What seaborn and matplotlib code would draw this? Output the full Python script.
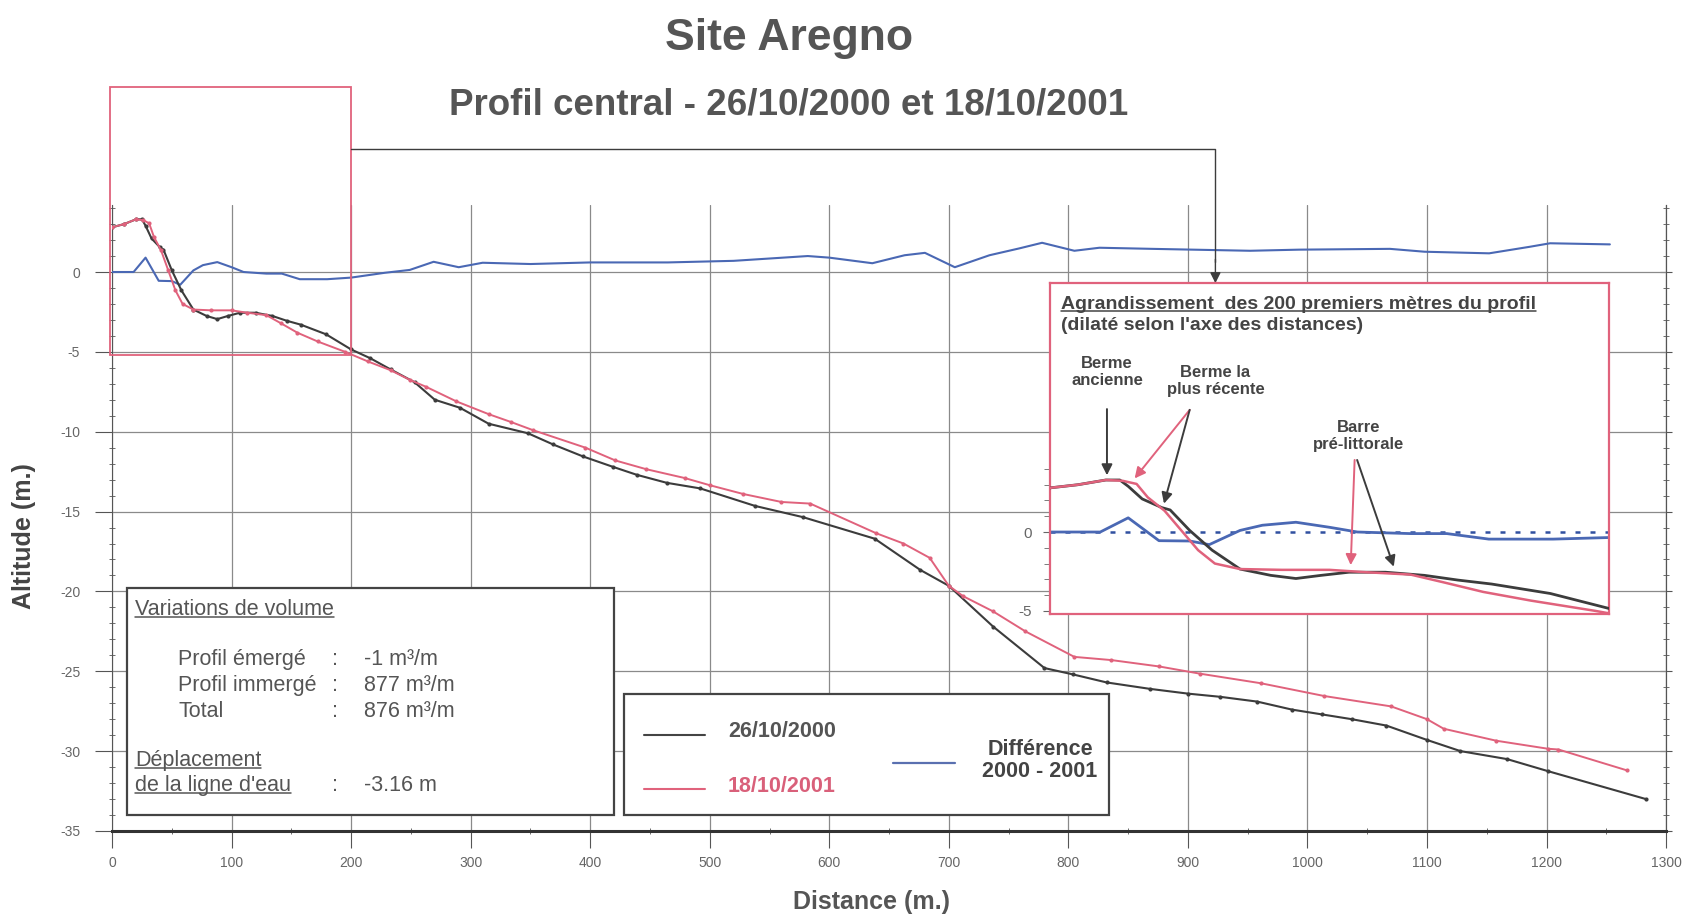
import matplotlib
matplotlib.use("Agg")
import pandas as pd
import matplotlib.pyplot as plt
import matplotlib.patches as mpatches
from matplotlib.lines import Line2D
import seaborn as sns

# Profil du 26/10/2000
dist_2000 = [0, 10, 20, 25, 28, 33, 40, 43, 50, 58, 68, 79, 88, 97, 107, 120, 134, 146, 158, 179,
             200, 216, 233, 253, 270, 291, 315, 348, 369, 394, 419, 439, 464, 492, 538, 578, 638, 676, 700, 737,
             780, 804, 832, 868, 900, 927, 958, 987, 1012, 1037, 1066, 1100, 1128, 1167, 1201, 1283]
alt_2000 = [2.8, 3.0, 3.3, 3.3, 2.9, 2.1, 1.55, 1.4, 0.1, -1.15, -2.35, -2.75, -2.95, -2.75, -2.55, -2.55, -2.75, -3.05, -3.3, -3.9,
            -4.85, -5.4, -6.1, -6.9, -8.0, -8.5, -9.5, -10.1, -10.8, -11.55, -12.2, -12.7, -13.2, -13.55, -14.65, -15.35, -16.7, -18.65, -19.65, -22.2,
            -24.8, -25.2, -25.7, -26.1, -26.4, -26.6, -26.9, -27.4, -27.7, -28.0, -28.4, -29.3, -30.0, -30.5, -31.25, -33.0]

# Profil du 18/10/2001
dist_2001 = [0, 10, 20, 26, 31, 35, 41, 47, 53, 59, 68, 83, 100, 113, 129, 141, 155, 172, 195, 214,
             233, 249, 263, 288, 315, 334, 352, 396, 421, 447, 479, 500, 528, 560, 584, 639, 662, 684, 700, 712,
             737, 764, 805, 836, 876, 910, 961, 1014, 1070, 1100, 1114, 1158, 1201, 1210, 1267]
alt_2001 = [2.8, 3.0, 3.3, 3.25, 3.05, 2.2, 1.35, 0.1, -1.15, -2.0, -2.35, -2.4, -2.4, -2.55, -2.7, -3.2, -3.8, -4.35, -5.0, -5.6,
            -6.15, -6.75, -7.2, -8.1, -8.9, -9.4, -9.9, -11.0, -11.8, -12.35, -12.9, -13.35, -13.9, -14.4, -14.5, -16.35, -17.0, -17.9, -19.65, -20.3,
            -21.25, -22.5, -24.1, -24.3, -24.7, -25.15, -25.75, -26.55, -27.2, -28.0, -28.6, -29.35, -29.85, -29.9, -31.2]

# Difference 2000 - 2001
dist_diff = [0, 18, 28, 39, 50, 57, 68, 76, 88, 100, 110, 129, 142, 157, 168, 180, 200, 228, 249, 269,
             290, 310, 350, 400, 465, 520, 582, 600, 636, 663, 680, 705, 734, 759, 778, 805, 826, 870, 952, 993,
             1069, 1098, 1152, 1186, 1203, 1253]
diff_2000_2001 = [0, 0, 0.9, -0.55, -0.57, -0.8, 0.1, 0.43, 0.62, 0.3, 0.0, -0.1, -0.1, -0.45, -0.45, -0.45, -0.35, -0.05, 0.13, 0.64,
                  0.3, 0.58, 0.5, 0.6, 0.6, 0.7, 1.0, 0.9, 0.55, 1.05, 1.2, 0.3, 1.05, 1.48, 1.83, 1.33, 1.52, 1.45, 1.33, 1.4,
                  1.45, 1.27, 1.17, 1.58, 1.8, 1.73]

x_ticks = list(range(0, 1301, 100))
y_ticks = list(range(-35, 1, 5))

sns.set_style("white")
plt.rcParams['font.family'] = ['Liberation Sans', 'DejaVu Sans']
plt.rcParams['axes.unicode_minus'] = False

GRIS = '#555555'
NOIR = '#3c3c3c'
ROUGE = '#e0627c'
BLEU = '#4a68b4'

p2000 = pd.DataFrame({'distance': dist_2000, 'altitude': alt_2000})
p2001 = pd.DataFrame({'distance': dist_2001, 'altitude': alt_2001})
pdiff = pd.DataFrame({'distance': dist_diff, 'altitude': diff_2000_2001})

fig = plt.figure(figsize=(16.88, 9.19), dpi=100)
ax = fig.add_axes([0.0664, 0.0958, 0.9206, 0.6812])

sns.lineplot(data=pdiff, x='distance', y='altitude', ax=ax, color=BLEU, lw=1.5,
             sort=False, estimator=None, zorder=3)
sns.lineplot(data=p2000, x='distance', y='altitude', ax=ax, color=NOIR, lw=1.5, marker='o',
             markersize=3, markeredgewidth=0, sort=False, estimator=None, zorder=3)
sns.lineplot(data=p2001, x='distance', y='altitude', ax=ax, color=ROUGE, lw=1.4, marker='o',
             markersize=3, markeredgewidth=0, sort=False, estimator=None, zorder=3)

ax.set_xlim(0, 1300)
ax.set_ylim(-35, 4.2)
ax.set_xticks(x_ticks)
ax.set_yticks(y_ticks)
ax.set_xticks(range(0, 1301, 50), minor=True)
ax.set_yticks(range(-35, 5), minor=True)
ax.grid(True, which='major', color='#8a8a8a', lw=0.9)
ax.tick_params(which='both', left=True, right=False, bottom=True,
               colors='#555555', labelcolor='#666666', labelsize=10)
ax.tick_params(which='major', direction='out', length=12)
ax.tick_params(which='minor', direction='inout', length=5)
ax.tick_params(axis='y', pad=11)
ax.tick_params(axis='x', pad=6)
ax.spines['top'].set_visible(False)
ax.spines['left'].set_color('#555555')
ax.spines['right'].set_color('#555555')
ax.spines['bottom'].set_color('#333333')
ax.spines['bottom'].set_linewidth(2.2)

# graduations de l'axe de droite (sans etiquettes)
droite = ax.secondary_yaxis('right')
droite.set_yticks(y_ticks)
droite.set_yticks(range(-35, 5), minor=True)
droite.tick_params(which='major', direction='inout', length=8, color='#555555', labelright=False)
droite.tick_params(which='minor', direction='inout', length=5, color='#555555')
droite.spines['right'].set_color('#555555')

ax.set_xlabel('Distance (m.)', fontsize=18, weight='bold', color=GRIS)
ax.set_ylabel('Altitude (m.)', fontsize=18, weight='bold', color='#444444')
ax.xaxis.set_label_coords(0.489, -0.113)
ax.xaxis.label.set_va('center')
ax.yaxis.set_label_coords(-0.0566, 0.471)
ax.yaxis.label.set_va('center')

# cadre des 200 premiers metres + renvoi vers l'agrandissement
ax.add_patch(mpatches.Rectangle((-1.5, -5.2), 201.5, 16.8, fill=False, ec=ROUGE, lw=1.3,
                                clip_on=False, zorder=4))
ax.plot([200, 923, 923], [7.7, 7.7, 0.6], color=NOIR, lw=1, clip_on=False, zorder=4)
ax.annotate('', xy=(923, -0.7), xytext=(923, 0.8), annotation_clip=False,
            arrowprops=dict(arrowstyle='-|>', color=NOIR, lw=1, mutation_scale=16,
                            shrinkA=0, shrinkB=0))

# titres
fig.text(0.4674, 0.958, 'Site Aregno', ha='center', va='center', fontsize=32,
         weight='bold', color=GRIS)
fig.text(0.4674, 0.8855, 'Profil central - 26/10/2000 et 18/10/2001', ha='center',
         va='center', fontsize=26.5, weight='bold', color=GRIS)

# agrandissement
axin = fig.add_axes([0.6220, 0.3319, 0.3312, 0.3602])
axin.set_facecolor('white')
axin.axhline(0, color='#3050a0', ls=(0, (2, 4)), lw=1.8, zorder=1)
sns.lineplot(data=pdiff, x='distance', y='altitude', ax=axin, color=BLEU, lw=2,
             sort=False, estimator=None, zorder=2)
sns.lineplot(data=p2000, x='distance', y='altitude', ax=axin, color=NOIR, lw=2,
             sort=False, estimator=None, zorder=3)
sns.lineplot(data=p2001, x='distance', y='altitude', ax=axin, color=ROUGE, lw=1.8,
             sort=False, estimator=None, zorder=3)
axin.set_xlim(0, 200)
axin.set_ylim(-5.2, 15.8)
axin.set_xlabel('')
axin.set_ylabel('')
axin.set_xticks([])
axin.set_yticks([-5, 0])
axin.set_yticklabels(['-5', '0'])
axin.set_yticks(range(-5, 5), minor=True)
axin.tick_params(axis='y', which='both', direction='out', left=True, colors='#666666',
                 labelsize=11, pad=8)
axin.tick_params(axis='y', which='major', length=5)
axin.tick_params(axis='y', which='minor', length=4)
for s in axin.spines.values():
    s.set_color(ROUGE)
    s.set_linewidth(1.6)

t_agr = axin.text(0.0197, 0.9335, 'Agrandissement  des 200 premiers mètres du profil',
                  transform=axin.transAxes, ha='left', va='center', fontsize=14,
                  weight='bold', color='#444444')
axin.text(0.0197, 0.870, "(dilaté selon l'axe des distances)", transform=axin.transAxes,
          ha='left', va='center', fontsize=14, weight='bold', color='#444444')

anno = dict(ha='center', va='center', fontsize=12, weight='bold', color='#444444',
            linespacing=1.15)
axin.text(20.4, 10.15, 'Berme\nancienne', **anno)
axin.text(59.2, 9.6, 'Berme la\nplus récente', **anno)
axin.text(110.5, 6.07, 'Barre\npré-littorale', **anno)


def fleche(a, depart, pointe, couleur):
    a.annotate('', xy=pointe, xytext=depart,
               arrowprops=dict(arrowstyle='-|>', color=couleur, lw=1.4, mutation_scale=16,
                               shrinkA=0, shrinkB=0))


fleche(axin, (20.4, 7.8), (20.4, 3.6), NOIR)
fleche(axin, (50, 7.75), (30.3, 3.4), ROUGE)
fleche(axin, (50, 7.75), (40.8, 1.8), NOIR)
fleche(axin, (109, 4.57), (107.6, -2.1), ROUGE)
fleche(axin, (109.9, 4.57), (123, -2.2), NOIR)

# encadre des volumes
fig.add_artist(mpatches.Rectangle((0.0752, 0.1132), 0.2885, 0.2468, transform=fig.transFigure,
                                  fc='white', ec='#444444', lw=1.6, zorder=5))
txt = dict(fontsize=15.5, color='#555555', va='center', zorder=6)
t_var = fig.text(0.0800, 0.3373, 'Variations de volume', **txt)
lignes = [('Profil émergé', '-1 m³/m', 0.2829),
          ('Profil immergé', '877 m³/m', 0.2546),
          ('Total', '876 m³/m', 0.2263)]
for lab, val, yy in lignes:
    fig.text(0.1055, yy, lab, **txt)
    fig.text(0.1967, yy, ':', **txt)
    fig.text(0.2156, yy, val, **txt)
t_dep1 = fig.text(0.0800, 0.1730, 'Déplacement', **txt)
t_dep2 = fig.text(0.0800, 0.1458, "de la ligne d'eau", **txt)
fig.text(0.1967, 0.1458, ':', **txt)
fig.text(0.2156, 0.1458, '-3.16 m', **txt)

# legende
fig.add_artist(mpatches.Rectangle((0.3697, 0.1132), 0.2873, 0.1317, transform=fig.transFigure,
                                  fc='white', ec='#444444', lw=1.6, zorder=5))
fig.add_artist(Line2D([0.3815, 0.4177], [0.2002, 0.2002], color='#444444', lw=1.5, zorder=6))
fig.add_artist(Line2D([0.3815, 0.4177], [0.1415, 0.1415], color=ROUGE, lw=1.5, zorder=6))
fig.add_artist(Line2D([0.529, 0.5658], [0.1697, 0.1697], color='#5a70b0', lw=1.6, zorder=6))
fig.text(0.4313, 0.2045, '26/10/2000', fontsize=15.5, weight='bold', color='#555555',
         va='center', zorder=6)
fig.text(0.4313, 0.1447, '18/10/2001', fontsize=15.5, weight='bold', color='#d9607a',
         va='center', zorder=6)
fig.text(0.6161, 0.1725, 'Différence\n2000 - 2001', fontsize=15.5, weight='bold',
         color='#444444', ha='center', va='center', linespacing=1.1, zorder=6)

# soulignements
fig.canvas.draw()
rend = fig.canvas.get_renderer()
inv = fig.transFigure.inverted()
for t in [t_var, t_dep1, t_dep2, t_agr]:
    bb = t.get_window_extent(rend)
    yb = bb.y0 + 0.12 * bb.height
    (x0, y0), (x1, _) = inv.transform([(bb.x0, yb), (bb.x1, yb)])
    fig.add_artist(Line2D([x0, x1], [y0, y0], color=t.get_color(), lw=1.1, zorder=7))

fig.savefig('out.png', dpi=100)
